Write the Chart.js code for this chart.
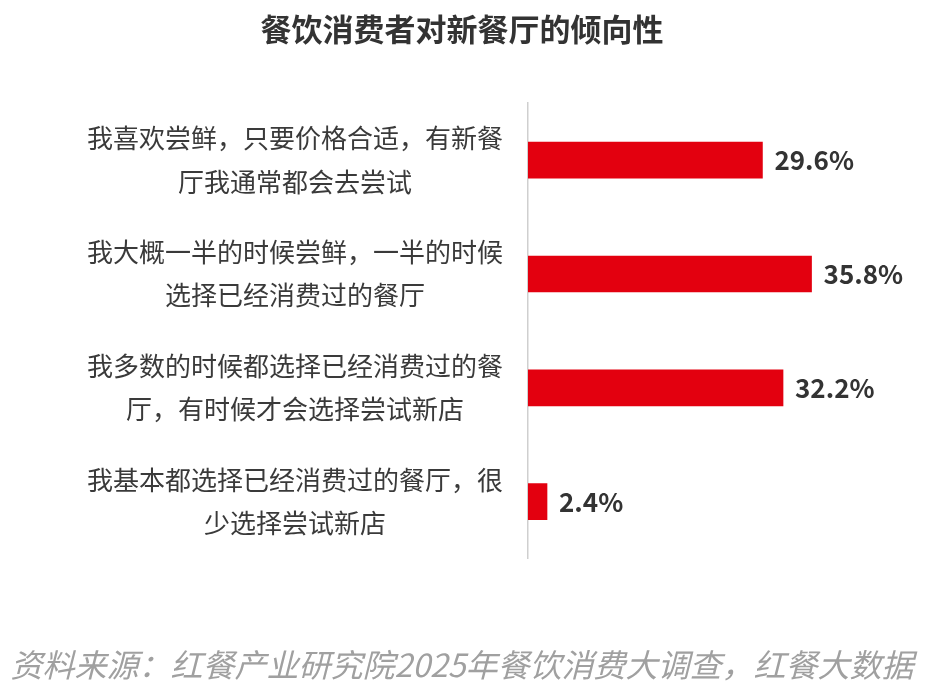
<!DOCTYPE html>
<html>
<head>
  <title>餐饮消费者对新餐厅的倾向性</title>
  <script src="https://cdn.jsdelivr.net/npm/chart.js"></script>
  <style>
    body { margin: 0; background: #fff; }
    #wrap { width: 948px; height: 697px; }
  </style>
</head>
<body>
  <div id="wrap"><canvas id="myChart"></canvas></div>

  <script>
    // Data
    const categories = [
      ['我喜欢尝鲜，只要价格合适，有新餐', '厅我通常都会去尝试'],
      ['我大概一半的时候尝鲜，一半的时候', '选择已经消费过的餐厅'],
      ['我多数的时候都选择已经消费过的餐', '厅，有时候才会选择尝试新店'],
      ['我基本都选择已经消费过的餐厅，很', '少选择尝试新店']
    ];
    const shares = [29.6, 35.8, 32.2, 2.4];

    const cjk = '"Noto Sans CJK SC", "Noto Sans", sans-serif';

    // draws the "29.6%" labels to the right of each bar
    const valueLabels = {
      id: 'valueLabels',
      afterDatasetsDraw(chart) {
        const ctx = chart.ctx;
        const meta = chart.getDatasetMeta(0);
        ctx.save();
        ctx.font = 'bold 26px ' + cjk;
        ctx.fillStyle = '#333';
        ctx.textBaseline = 'middle';
        ctx.textAlign = 'left';
        meta.data.forEach((bar, i) => {
          ctx.fillText(shares[i].toFixed(1) + '%', bar.x + 12, bar.y);
        });
        ctx.restore();
      }
    };

    const ctx = document.getElementById('myChart').getContext('2d');
    new Chart(ctx, {
      type: 'bar',
      data: {
        labels: categories,
        datasets: [{
          data: shares,
          backgroundColor: '#e3000f',
          barThickness: 36
        }]
      },
      options: {
        indexAxis: 'y',
        responsive: true,
        maintainAspectRatio: false,
        animation: false,
        layout: { padding: { left: 0, right: 24, top: 0, bottom: 0 } },
        plugins: {
          legend: { display: false },
          tooltip: { enabled: false },
          title: {
            display: true,
            text: '餐饮消费者对新餐厅的倾向性',
            color: '#333',
            font: { family: cjk, size: 31, weight: 'bold', lineHeight: 1.2 },
            padding: { top: 11, bottom: 55 }
          },
          subtitle: {
            display: true,
            position: 'bottom',
            text: '资料来源：红餐产业研究院2025年餐饮消费大调查，红餐大数据',
            color: '#a0a0a0',
            font: { family: cjk, size: 32, style: 'italic', lineHeight: 1.2 },
            padding: { top: 87, bottom: 13 }
          }
        },
        scales: {
          x: {
            display: false,
            min: 0,
            max: 50
          },
          y: {
            grid: { display: false },
            border: { display: true, color: '#cfcfcf', width: 1.5 },
            afterFit(scale) { scale.width = 528; },
            ticks: {
              crossAlign: 'center',
              padding: 17,
              color: '#3a3a3a',
              font: { family: cjk, size: 26, lineHeight: 1.66 }
            }
          }
        }
      },
      plugins: [valueLabels]
    });
  </script>
</body>
</html>
